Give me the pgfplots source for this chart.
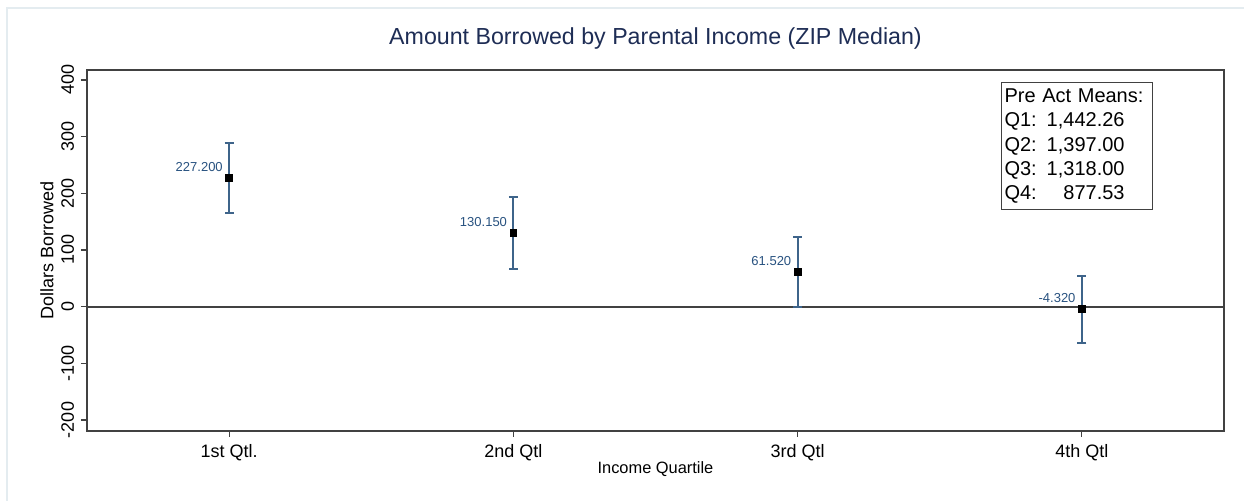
\documentclass[border=0pt]{standalone}
\usepackage{pgfplots}
\pgfplotsset{compat=1.18}
\usepackage{fontspec}
\setmainfont{Liberation Sans}
\definecolor{errblue}{RGB}{62,100,138}
\definecolor{lblblue}{RGB}{40,82,128}
\definecolor{titlenavy}{RGB}{30,45,85}
\definecolor{axgray}{RGB}{65,65,65}
\definecolor{framec}{RGB}{228,236,240}
\pgfplotstableread{
x y ep em lbl
1 227.20 62 62 227.200
2 130.15 63 63 130.150
3 61.52 62 63 61.520
4 -4.32 59 60.5 -4.320
}\qdata
\begin{document}
\begin{tikzpicture}
\useasboundingbox[fill=white] (0,0) rectangle (622pt,250.5pt);
\draw[framec, line width=0.6pt] (3.5pt,0) -- (3.5pt,246.5pt) -- (622pt,246.5pt);
\begin{axis}[
  at={(43.5pt,35pt)}, anchor=south west,
  scale only axis, width=568.5pt, height=180.5pt,
  xmin=0.5, xmax=4.5, ymin=-219.4, ymax=417.6,
  xtick={1,2,3,4}, xticklabels={1st Qtl., 2nd Qtl, 3rd Qtl, 4th Qtl},
  ytick={-200,-100,0,100,200,300,400},
  tick align=outside, major tick length=3pt,
  xtick pos=bottom, ytick pos=left,
  axis line style={axgray, line width=0.85pt},
  tick style={axgray, line width=0.6pt},
  /pgf/number format/assume math mode=true,
  ticklabel style={font=\fontsize{9}{10}\selectfont},
  yticklabel style={rotate=90, anchor=south},
  title={Amount Borrowed by Parental Income (ZIP Median)},
  title style={at={(axis description cs:0.5,1.036)}, anchor=base, font=\fontsize{11.6}{13}\selectfont, text=titlenavy},
  xlabel={Income Quartile},
  xlabel style={at={(axis description cs:0.5,-0.105)}, anchor=center, font=\fontsize{8.2}{9}\selectfont},
  ylabel={Dollars Borrowed},
  ylabel style={at={(axis description cs:-0.0352,0.5)}, anchor=center, rotate=0, font=\fontsize{9}{10}\selectfont},
  clip=false,
]
\draw[axgray, line width=0.85pt] (axis cs:0.5,0) -- (axis cs:4.5,0);
\addplot[only marks, mark=square*, mark size=1.7pt,
  mark options={draw=black, fill=black},
  point meta=explicit symbolic,
  nodes near coords,
  nodes near coords style={anchor=south east, inner sep=0pt, xshift=-3pt, yshift=3pt,
    font=\fontsize{6.5}{7}\selectfont, text=lblblue},
  error bars/.cd, y dir=both, y explicit,
  error bar style={errblue, line width=1pt},
  error mark options={rotate=90, mark size=2.25pt, draw=errblue, line width=1pt}]
  table[x=x, y=y, y error plus=ep, y error minus=em, meta=lbl] {\qdata};
\end{axis}
\node[draw=axgray, line width=0.5pt, anchor=north west, inner xsep=1.5pt, inner ysep=3pt,
  minimum width=75.5pt, text width=72.5pt, align=left, font=\fontsize{10}{12.2}\selectfont]
  at (500.5pt,209.5pt)
  {Pre Act Means:\\
   Q1: 1,442.26\\
   Q2: 1,397.00\\
   Q3: 1,318.00\\
   Q4: \phantom{1,}877.53};
\end{tikzpicture}
\end{document}
